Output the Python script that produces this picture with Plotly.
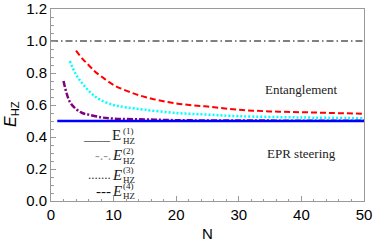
import plotly.graph_objects as go

# ---- data ----
N1 = [1, 50]
E1 = [0.5, 0.5]

N_ref = [0, 50]
E_ref = [1.0, 1.0]

N2 = [2, 3, 4, 5, 6, 8, 10, 15, 20, 30, 40, 50]
E2 = [0.75, 0.62, 0.575, 0.55, 0.54, 0.523, 0.515, 0.51, 0.505, 0.503, 0.502, 0.501]

N3 = [3, 4, 5, 6, 7, 8, 10, 12, 15, 20, 25, 30, 40, 50]
E3 = [0.875, 0.79, 0.735, 0.69, 0.655, 0.63, 0.60, 0.585, 0.57, 0.55, 0.54, 0.53, 0.522, 0.517]

N4 = [4, 5, 6, 7, 8, 10, 12, 15, 20, 25, 30, 35, 40, 45, 50]
E4 = [0.94, 0.89, 0.85, 0.81, 0.78, 0.725, 0.69, 0.65, 0.61, 0.59, 0.57, 0.56, 0.555, 0.55, 0.545]

x_ticks = [0, 10, 20, 30, 40, 50]
y_ticks = [0.0, 0.2, 0.4, 0.6, 0.8, 1.0, 1.2]
y_ticklabels = ["0.0", "0.2", "0.4", "0.6", "0.8", "1.0", "1.2"]

legend_syms = ["____", "-.-.", ".......", "---"]
legend_sups = ["(1)", "(2)", "(3)", "(4)"]
legend_y = [0.41, 0.285, 0.165, 0.065]

fig = go.Figure()
fig.add_trace(go.Scatter(x=N_ref, y=E_ref, mode="lines",
                         line=dict(color="black", width=1, dash="7px,3px,1.5px,3px")))
fig.add_trace(go.Scatter(x=N4, y=E4, mode="lines", line_shape="spline",
                         line=dict(color="#ff0000", width=2, dash="6px,3px")))
fig.add_trace(go.Scatter(x=N3, y=E3, mode="lines", line_shape="spline",
                         line=dict(color="#00ffff", width=2.5, dash="2px,2px")))
fig.add_trace(go.Scatter(x=N2, y=E2, mode="lines", line_shape="spline",
                         line=dict(color="#800080", width=2.5, dash="6px,2px,2px,2px")))
fig.add_trace(go.Scatter(x=N1, y=E1, mode="lines",
                         line=dict(color="#0000ff", width=2.5)))

serif = "Liberation Serif"
ann = []
ann.append(dict(x=40, y=0.70, xref="x", yref="y", text="Entanglement", showarrow=False,
                font=dict(family=serif, size=13, color="#222")))
ann.append(dict(x=40, y=0.30, xref="x", yref="y", text="EPR steering", showarrow=False,
                font=dict(family=serif, size=13, color="#222")))
sym_colors = ["#333", "#999", "#333", "#111"]
sym_sizes = [13, 14, 13, 15]
for i in range(4):
    yv = legend_y[i]
    ann.append(dict(x=9.9, y=yv, xref="x", yref="y", text=legend_syms[i], showarrow=False,
                    xanchor="right", yanchor="middle",
                    font=dict(family=serif, size=sym_sizes[i], color=sym_colors[i])))
    etxt = "E" if i == 0 else "<i>E</i>"
    ann.append(dict(x=9.8, y=yv, xref="x", yref="y", text=etxt, showarrow=False,
                    xanchor="left", yanchor="middle", xshift=-2,
                    font=dict(family=serif, size=15, color="#222")))
    ann.append(dict(x=11.4, y=yv + 0.03, xref="x", yref="y", text=legend_sups[i], showarrow=False,
                    xanchor="left", yanchor="middle", xshift=-1,
                    font=dict(family=serif, size=9, color="#222")))
    ann.append(dict(x=11.4, y=yv - 0.033, xref="x", yref="y", text="HZ", showarrow=False,
                    xanchor="left", yanchor="middle", xshift=-1,
                    font=dict(family=serif, size=9, color="#222")))
ann.append(dict(x=-40/313, y=(249 - 114 - 48)/192, xref="paper", yref="paper",
                text="<i>E</i><sub>HZ</sub>",
                showarrow=False, textangle=-90, xanchor="center", yanchor="middle",
                font=dict(family="Liberation Sans", size=16, color="black")))

fig.update_layout(
    width=374, height=249,
    margin=dict(l=51, r=10, t=9, b=48, autoexpand=False),
    paper_bgcolor="white", plot_bgcolor="white",
    showlegend=False,
    font=dict(family="Liberation Sans", size=15, color="black"),
    annotations=ann,
)

fig.update_xaxes(range=[0, 50], tickvals=x_ticks, ticks="inside", ticklen=5, tickcolor="#999",
                 showline=True, linecolor="#999", linewidth=1, mirror=True, showgrid=False,
                 zeroline=False, automargin=False,
                 minor=dict(dtick=2, ticks="inside", ticklen=2.5, tickcolor="#999"),
                 title=dict(text="N", font=dict(size=15), standoff=6))
fig.update_yaxes(range=[0, 1.2], tickvals=y_ticks, ticktext=y_ticklabels, ticks="inside",
                 ticklen=5, tickcolor="#999",
                 showline=True, linecolor="#999", linewidth=1, mirror=True, showgrid=False,
                 zeroline=False, automargin=False,
                 minor=dict(dtick=0.05, ticks="inside", ticklen=2.5, tickcolor="#999"))

fig.write_html("out.html", config={"displayModeBar": False})

# remove default page margins so the figure sits at the window origin
with open("out.html", "r", encoding="utf-8") as f:
    html = f.read()
html = html.replace("<head>", "<head><style>html,body{margin:0;padding:0;overflow:hidden;}</style>", 1)
with open("out.html", "w", encoding="utf-8") as f:
    f.write(html)
